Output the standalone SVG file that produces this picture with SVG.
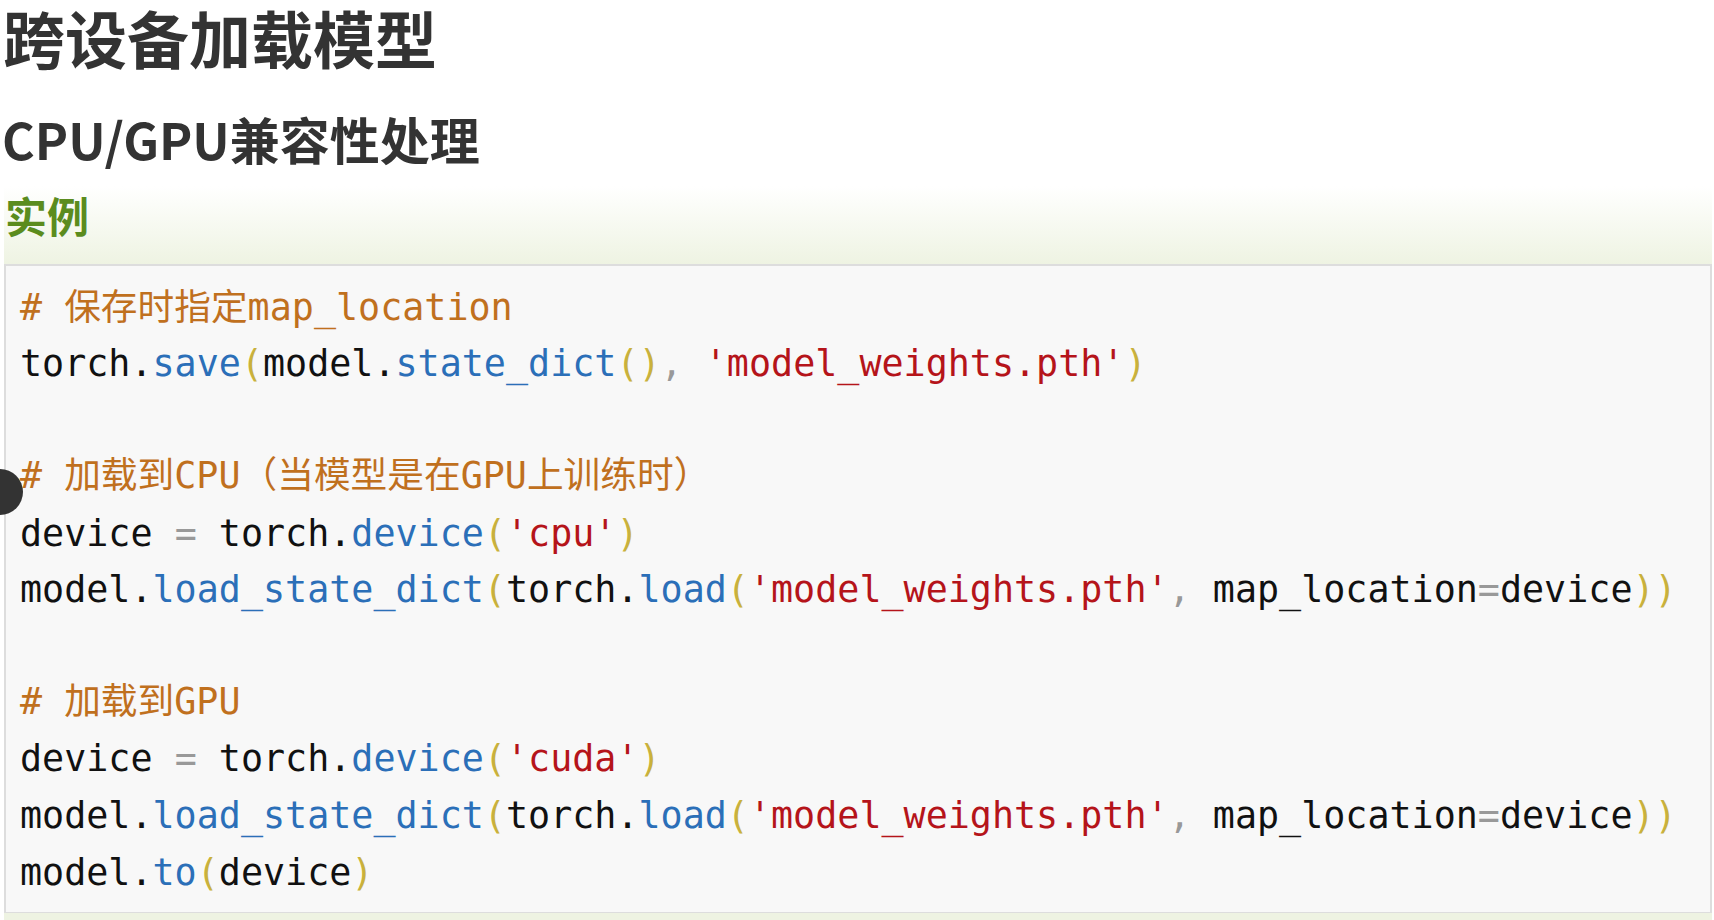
<svg xmlns="http://www.w3.org/2000/svg" width="1714" height="920" viewBox="0 0 1714 920">
<defs>
<linearGradient id="hb" x1="0" y1="0" x2="0" y2="1">
<stop offset="0" stop-color="#ffffff"/>
<stop offset="1" stop-color="#eef3e2"/>
</linearGradient>
<style>
.h{font-family:"Noto Sans CJK SC","Noto Sans",sans-serif;font-weight:bold;fill:#333}
.c{font-family:"DejaVu Sans Mono","Noto Sans CJK SC",monospace;font-size:36.7px;fill:#111;white-space:pre}
.cm{fill:#c0701e}.f{fill:#2b6fb8}.s{fill:#b5141a}.p{fill:#c9b13c}.g{fill:#999}
</style>
</defs>
<rect width="1714" height="920" fill="#fff"/>
<text class="h" x="3" y="64" font-size="62">跨设备加载模型</text>
<text class="h" x="2" y="160" font-size="50">CPU/GPU兼容性处理</text>
<rect x="4" y="186" width="1708" height="79" fill="url(#hb)"/>
<text class="h" x="5" y="233" font-size="42" style="fill:#5b8c1e">实例</text>
<rect x="5" y="265" width="1706" height="648" fill="#f8f8f8" stroke="#ddd" stroke-width="2"/>
<rect x="4" y="913" width="1708" height="7" fill="#eef3e2"/>
<circle cx="0" cy="492" r="23" fill="#333"/>
<text class="c" x="20" y="320"><tspan class="cm"># 保存时指定map_location</tspan></text>
<text class="c" x="20" y="376">torch.<tspan class="f">save</tspan><tspan class="p">(</tspan>model.<tspan class="f">state_dict</tspan><tspan class="p">()</tspan><tspan class="g">,</tspan> <tspan class="s">'model_weights.pth'</tspan><tspan class="p">)</tspan></text>
<text class="c" x="20" y="488"><tspan class="cm"># 加载到CPU（当模型是在GPU上训练时）</tspan></text>
<text class="c" x="20" y="546">device <tspan class="g">=</tspan> torch.<tspan class="f">device</tspan><tspan class="p">(</tspan><tspan class="s">'cpu'</tspan><tspan class="p">)</tspan></text>
<text class="c" x="20" y="602">model.<tspan class="f">load_state_dict</tspan><tspan class="p">(</tspan>torch.<tspan class="f">load</tspan><tspan class="p">(</tspan><tspan class="s">'model_weights.pth'</tspan><tspan class="g">,</tspan> map_location<tspan class="g">=</tspan>device<tspan class="p">))</tspan></text>
<text class="c" x="20" y="714"><tspan class="cm"># 加载到GPU</tspan></text>
<text class="c" x="20" y="771">device <tspan class="g">=</tspan> torch.<tspan class="f">device</tspan><tspan class="p">(</tspan><tspan class="s">'cuda'</tspan><tspan class="p">)</tspan></text>
<text class="c" x="20" y="828">model.<tspan class="f">load_state_dict</tspan><tspan class="p">(</tspan>torch.<tspan class="f">load</tspan><tspan class="p">(</tspan><tspan class="s">'model_weights.pth'</tspan><tspan class="g">,</tspan> map_location<tspan class="g">=</tspan>device<tspan class="p">))</tspan></text>
<text class="c" x="20" y="885">model.<tspan class="f">to</tspan><tspan class="p">(</tspan>device<tspan class="p">)</tspan></text>
</svg>
